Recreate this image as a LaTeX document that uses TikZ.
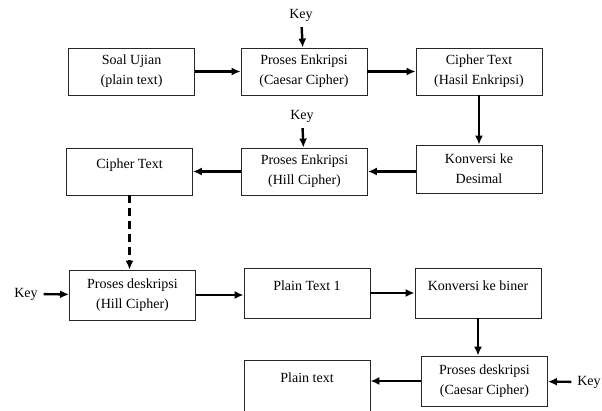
\documentclass[tikz,border=0pt]{standalone}
\usepackage{fontspec}
\setmainfont{Liberation Serif}
\usetikzlibrary{arrows.meta}

\begin{document}
\begin{tikzpicture}[x=1pt,y=-1pt,
    box/.style={draw=black!85,line width=.8pt,minimum width=126pt,minimum height=47pt,
        align=center,inner sep=2pt,font=\fontsize{14}{20}\selectfont},
    toptext/.style={text depth=15pt},
    flow/.style={line width=2.4pt,-{Latex[length=9pt,width=8pt]}},
    keytext/.style={font=\fontsize{14}{16}\selectfont,inner sep=1pt,outer sep=5pt}]
\useasboundingbox (0,0) rectangle (602,411);

% baris pertama
\node[box] (soal) at (131.5,71.5) {Soal Ujian\\(plain text)};
\node[box] (caesar) at (304,71.5) {Proses Enkripsi\\(Caesar Cipher)};
\node[box] (hasil) at (479,71.5) {Cipher Text\\(Hasil Enkripsi)};
\node[keytext] (key1) at (301,15) {Key};

% baris kedua
\node[box,toptext] (cipher) at (129.5,171.5) {Cipher Text};
\node[box] (hill) at (304.5,171.5) {Proses Enkripsi\\(Hill Cipher)};
\node[box,minimum height=48pt] (desimal) at (479,169) {Konversi ke\\Desimal};
\node[keytext] (key2) at (302,116) {Key};

% baris ketiga
\node[box,minimum height=50pt] (dekhill) at (132.5,295) {Proses deskripsi\\(Hill Cipher)};
\node[box,minimum height=50pt,toptext] (plain1) at (307,293) {Plain Text 1};
\node[box,minimum height=50pt,toptext] (biner) at (478,293) {Konversi ke biner};
\node[keytext] (key3) at (26,294) {Key};

% baris keempat
\node[box,minimum height=50pt] (dekcaesar) at (484.5,381) {Proses deskripsi\\(Caesar Cipher)};
\node[box,minimum height=54pt,text depth=19pt] (plain) at (307,387) {Plain text};
\node[keytext] (key4) at (589,382) {Key};

\draw[flow] (soal) -- (caesar);
\draw[flow] (caesar) -- (hasil);
\draw[flow] (key1) -- (caesar);
\draw[flow] (hasil) -- (desimal);
\draw[flow] (desimal.west |- hill) -- (hill);
\draw[flow] (hill) -- (cipher);
\draw[flow] (key2) -- (hill);
\draw[flow,dashed,dash pattern=on 8pt off 5pt] (cipher.south) -- (cipher.south |- dekhill.north);
\draw[flow] (key3) -- (dekhill);
\draw[flow] (dekhill) -- (plain1.west |- dekhill);
\draw[flow] (plain1) -- (biner);
\draw[flow] (biner.south) -- (biner.south |- dekcaesar.north);
\draw[flow] (key4) -- (dekcaesar);
\draw[flow] (dekcaesar) -- (plain.east |- dekcaesar);
\end{tikzpicture}
\end{document}
